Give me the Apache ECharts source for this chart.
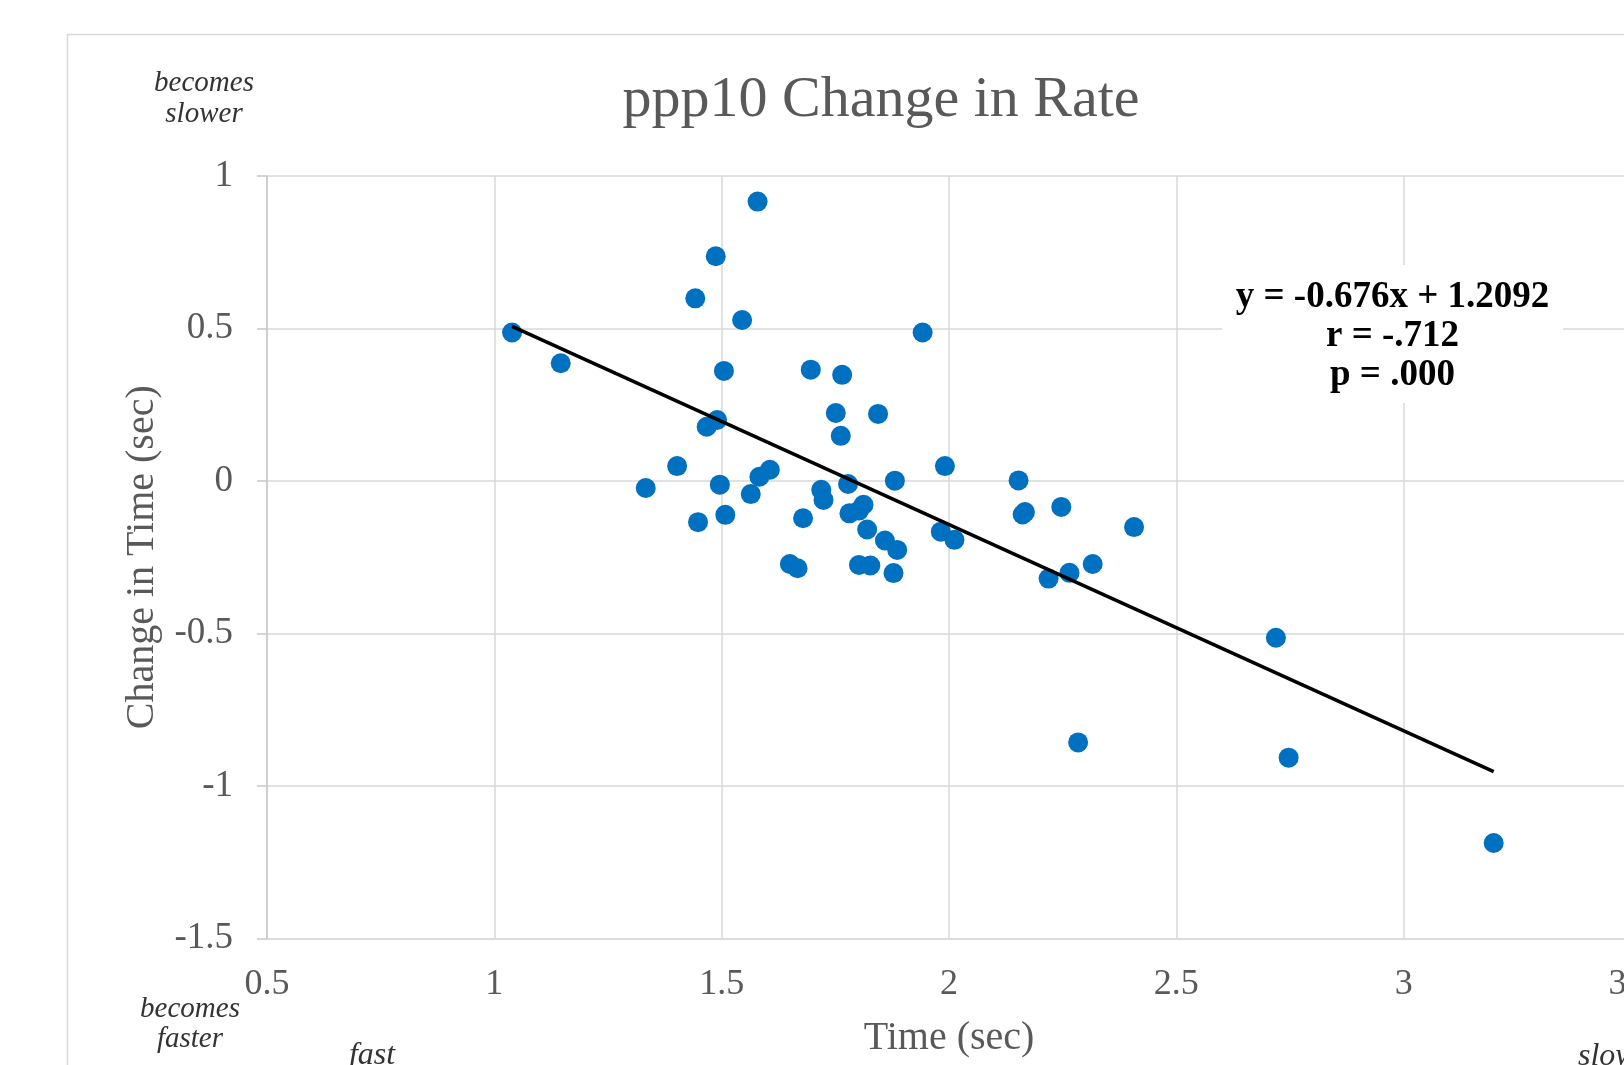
<!DOCTYPE html>
<html>
<head>
<meta charset="utf-8">
<script src="https://cdn.jsdelivr.net/npm/echarts@6/dist/echarts.min.js"></script>
<style>
  html, body { margin: 0; padding: 0; background: #fff; overflow: hidden; }
  #chart { width: 1624px; height: 1065px; }
</style>
</head>
<body>
<div id="chart"></div>
<script>
// ---- Data ----
const timeSec = [
  1.039, 1.146, 1.579, 1.487, 1.442, 1.545, 1.942, 1.505, 1.696, 1.765,
  1.751, 1.844, 1.762, 1.490, 1.467, 1.402, 1.333, 1.496, 1.448, 1.508,
  1.583, 1.606, 1.564, 1.679, 1.719, 1.724, 1.778, 1.781, 1.802, 1.812,
  1.820, 1.859, 1.886, 1.881, 1.650, 1.667, 1.802, 1.827, 1.878, 1.991,
  1.982, 2.012, 2.153, 2.162, 2.167, 2.247, 2.407, 2.219, 2.265, 2.316,
  2.719, 2.284, 2.747, 3.198
];
const changeSec = [
  0.487, 0.386, 0.916, 0.737, 0.599, 0.528, 0.487, 0.361, 0.365, 0.348,
  0.223, 0.220, 0.148, 0.200, 0.178, 0.049, -0.023, -0.012, -0.135, -0.111,
  0.014, 0.037, -0.043, -0.122, -0.029, -0.062, -0.010, -0.106, -0.097, -0.078,
  -0.159, -0.195, -0.226, 0.001, -0.272, -0.286, -0.275, -0.277, -0.302, 0.049,
  -0.166, -0.193, 0.002, -0.110, -0.102, -0.085, -0.151, -0.320, -0.301, -0.272,
  -0.514, -0.857, -0.907, -1.187
];
const trendSlope = -0.676;
const trendIntercept = 1.2092;
const statLines = ['y = -0.676x + 1.2092', 'r = -.712', 'p = .000'];
const chartTitle = 'ppp10 Change in Rate';
const xAxisTitle = 'Time (sec)';
const yAxisTitle = 'Change in Time (sec)';

// ---- Build series data ----
const points = timeSec.map((x, i) => [x, changeSec[i]]);
const xMin = Math.min(...timeSec), xMax = Math.max(...timeSec);
const trend = [[xMin, trendSlope * xMin + trendIntercept], [xMax, trendSlope * xMax + trendIntercept]];

const SERIF = "'Liberation Serif', 'Times New Roman', serif";
const chart = echarts.init(document.getElementById('chart'));
chart.setOption({
  backgroundColor: '#ffffff',
  animation: false,
  title: {
    text: chartTitle,
    left: 881, top: 72, textAlign: 'center', padding: 0,
    textStyle: { fontFamily: SERIF, fontSize: 58, fontWeight: 'normal', color: '#595959', lineHeight: 58 }
  },
  grid: { left: 267, top: 176, width: 1364, height: 762.5, containLabel: false, outerBoundsMode: 'none' },
  xAxis: {
    type: 'value', min: 0.5, max: 3.5, interval: 0.5,
    name: xAxisTitle, nameLocation: 'middle', nameGap: 80,
    nameTextStyle: { fontFamily: SERIF, fontSize: 40, color: '#595959' },
    axisLine: { show: true, onZero: false, lineStyle: { color: '#d9d9d9', width: 1.5 } },
    axisTick: { show: false },
    axisLabel: { margin: 28, fontFamily: SERIF, fontSize: 36, color: '#595959' },
    splitLine: { show: true, lineStyle: { color: '#d9d9d9', width: 1.5 } }
  },
  yAxis: {
    type: 'value', min: -1.5, max: 1, interval: 0.5,
    name: yAxisTitle, nameLocation: 'middle', nameGap: 105,
    nameTextStyle: { fontFamily: SERIF, fontSize: 40, color: '#595959' },
    axisLine: { show: true, onZero: false, lineStyle: { color: '#c8c8c8', width: 1.5 } },
    axisTick: { show: true, length: 10, lineStyle: { color: '#c8c8c8', width: 1.5 } },
    axisLabel: { margin: 34, fontFamily: SERIF, fontSize: 37, color: '#595959' },
    splitLine: { show: true, lineStyle: { color: '#d9d9d9', width: 1.5 } }
  },
  series: [
    {
      type: 'scatter', data: points, symbol: 'circle', symbolSize: 20,
      itemStyle: { color: '#0070C0', opacity: 1 }, z: 2
    },
    {
      type: 'line', data: trend, symbol: 'none', z: 3,
      lineStyle: { color: '#000000', width: 3.5 }
    }
  ],
  graphic: [
    { type: 'rect', left: 65, top: 32, z: -1, silent: true,
      shape: { width: 2000, height: 2000 },
      style: { fill: 'none', stroke: '#d9d9d9', lineWidth: 1.5 } },
    { type: 'rect', x: 1222, y: 265, z: 10, silent: true,
      shape: { width: 341, height: 138 },
      style: { fill: '#ffffff' } },
    { type: 'text', x: 1392.5, y: 336, z: 11, silent: true,
      style: { text: statLines.join('\n'), fontFamily: SERIF, fontSize: 37, fontWeight: 'bold',
               fill: '#000', align: 'center', verticalAlign: 'middle', lineHeight: 39 } },
    { type: 'text', x: 204, y: 99, silent: true,
      style: { text: 'becomes\nslower', fontFamily: SERIF, fontStyle: 'italic', fontSize: 29,
               fill: '#333', align: 'center', verticalAlign: 'middle', lineHeight: 31 } },
    { type: 'text', x: 190, y: 1024, silent: true,
      style: { text: 'becomes\nfaster', fontFamily: SERIF, fontStyle: 'italic', fontSize: 29,
               fill: '#333', align: 'center', verticalAlign: 'middle', lineHeight: 30 } },
    { type: 'text', x: 372, y: 1056, silent: true,
      style: { text: 'fast', fontFamily: SERIF, fontStyle: 'italic', fontSize: 32,
               fill: '#333', align: 'center', verticalAlign: 'middle' } },
    { type: 'text', x: 1578, y: 1057, silent: true,
      style: { text: 'slow', fontFamily: SERIF, fontStyle: 'italic', fontSize: 32,
               fill: '#333', align: 'left', verticalAlign: 'middle' } }
  ]
});
</script>
</body>
</html>
